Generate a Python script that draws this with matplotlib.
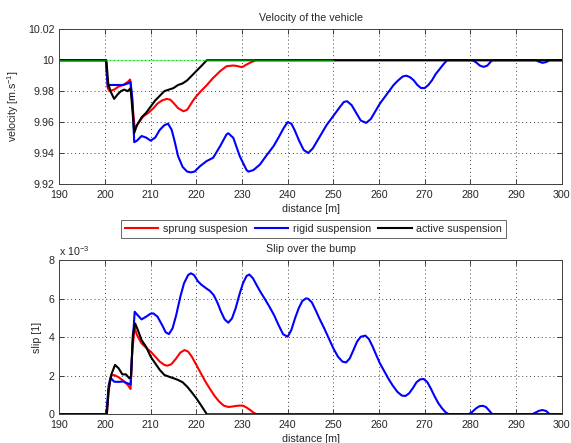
import matplotlib
matplotlib.use("Agg")
import matplotlib.pyplot as plt

plt.rcParams['font.family'] = ['Liberation Sans', 'DejaVu Sans']
plt.rcParams['mathtext.fontset'] = 'custom'
plt.rcParams['mathtext.rm'] = 'Liberation Sans'
FS = 7.7

# ---------------- velocity data ----------------
vel_ref_x = [190, 250]
vel_ref_y = [10, 10]

vel_sprung_x = [190, 200.2, 200.6, 201, 202, 203, 204, 205, 205.5, 206.0, 206.5, 207, 208.4,
                209.5, 210.6, 211.5, 212.5, 213.5, 214.3, 215, 216, 217.2, 218, 218.6, 219.3,
                220, 221, 222.2, 223.5, 225.2, 226.6, 228.1, 229, 230, 231, 232, 232.5, 233, 300]
vel_sprung_y = [10, 10, 9.982, 9.980, 9.981, 9.983, 9.984, 9.986, 9.9875, 9.972, 9.956, 9.958, 9.9638,
                9.966, 9.969, 9.972, 9.974, 9.975, 9.9745, 9.9724, 9.969, 9.967, 9.968, 9.9707, 9.974,
                9.9767, 9.980, 9.9836, 9.988, 9.9929, 9.9961, 9.9966, 9.9962, 9.9955, 9.9972, 9.9987, 9.9994, 10, 10]

vel_rigid_x = [190, 200.2, 200.6, 201, 202, 203, 204, 205, 205.6, 206.0, 206.4, 207, 208, 209,
               210, 211, 212, 213, 213.8, 214.6, 215.3, 216, 217, 218, 218.8, 219.6, 220.8, 222.2,
               223.7, 225.2, 226.6, 227, 228.1, 229.5, 231, 231.4, 232.5, 233.9, 235.5, 236.9,
               238, 239.1, 240, 240.8, 241.5, 242.5, 243.5, 244.5, 245.5, 246.5, 247.5, 248.5,
               249.5, 250.5, 251.5, 252.3, 253, 254, 255, 256, 257.2, 258.2, 259.2, 260.2, 261.2,
               262.2, 263.2, 264.2, 265.2, 266, 266.8, 267.6, 268.4, 269.2, 270, 270.8, 271.6,
               272.4, 273.2, 274, 274.9, 280.5, 281.3, 282.1, 282.9, 283.7, 284.3, 284.8, 294.3,
               295, 295.8, 296.6, 297.3, 300]
vel_rigid_y = [10, 10, 9.983, 9.984, 9.984, 9.984, 9.984, 9.985, 9.986, 9.975, 9.947, 9.948, 9.951, 9.950,
               9.948, 9.950, 9.955, 9.958, 9.959, 9.955, 9.947, 9.938, 9.931, 9.928, 9.9275, 9.928, 9.9315, 9.9347,
               9.937, 9.9444, 9.952, 9.9528, 9.9498, 9.938, 9.929, 9.928, 9.929, 9.9325, 9.939, 9.9444,
               9.950, 9.956, 9.960, 9.959, 9.955, 9.948, 9.942, 9.940, 9.943, 9.948, 9.953, 9.958,
               9.962, 9.966, 9.970, 9.973, 9.9735, 9.971, 9.966, 9.961, 9.9595, 9.962, 9.967, 9.972, 9.976,
               9.980, 9.984, 9.987, 9.9895, 9.990, 9.989, 9.987, 9.984, 9.982, 9.982, 9.984, 9.987,
               9.991, 9.994, 9.997, 10.0, 10, 9.9985, 9.9965, 9.9957, 9.9965, 9.9985, 10, 10,
               9.9991, 9.9983, 9.9988, 10, 10]

vel_active_x = [190, 200.3, 200.7, 201.2, 202, 202.8, 203.5, 204.2, 205, 205.6, 206.0, 206.4, 207,
                208, 209, 210, 211, 212, 213, 214, 215, 216, 217, 218, 219, 220, 221, 222.3, 300]
vel_active_y = [10, 10, 9.985, 9.980, 9.975, 9.978, 9.980, 9.981, 9.980, 9.982, 9.968, 9.953, 9.958,
                9.963, 9.966, 9.970, 9.974, 9.977, 9.980, 9.981, 9.982, 9.984, 9.985, 9.987, 9.990, 9.993, 9.996, 10, 10]

# ---------------- slip data (x 10^-3) ----------------
slip_sprung_x = [190, 200.4, 200.8, 201.3, 202, 203, 204, 205, 205.6, 206.0, 206.5, 207, 208, 209, 210,
                 211, 212, 213, 213.6, 214.5, 215.5, 216.5, 217.4, 218.2, 219, 220, 221, 222, 223, 224,
                 225, 226, 227, 227.8, 228.6, 229.4, 230.2, 231, 231.8, 232.5, 233.2, 300]
slip_sprung_y = [0, 0, 1.2, 2.0, 2.04, 1.92, 1.74, 1.52, 1.31, 3.4, 4.49, 4.11, 3.68, 3.45, 3.25,
                 2.99, 2.73, 2.56, 2.52, 2.59, 2.87, 3.2, 3.33, 3.25, 2.99, 2.56, 2.12, 1.69, 1.31, 0.95,
                 0.66, 0.45, 0.38, 0.4, 0.43, 0.45, 0.45, 0.35, 0.22, 0.09, 0, 0]

slip_rigid_x = [190, 200.3, 200.8, 201.2, 202, 203, 204, 205, 205.6, 206.0, 206.5, 207, 208, 209, 210,
                210.6, 211.5, 212.5, 213.3, 214, 214.8, 215.6, 216.5, 217.3, 218.2, 218.8, 219.5, 220.3,
                221, 222, 223, 223.8, 224.6, 225.4, 226.2, 227, 227.8, 228.6, 229.4, 230.2, 231, 231.6,
                232.4, 233.2, 234, 235, 236, 237, 238, 239, 240, 240.8, 241.6, 242.4, 243.2, 244, 244.5,
                245.3, 246.1, 247, 248, 249, 250, 251, 252, 252.8, 253.6, 254.4, 255.2, 256, 257, 257.8,
                258.6, 259.4, 260.2, 261, 262, 263, 264, 265, 265.8, 266.6, 267.4, 268.2, 269, 269.8,
                270.6, 271.4, 272.2, 273, 273.8, 274.6, 275.3, 279.6, 280.4, 281.2, 282, 282.7, 283.4,
                284.1, 284.8, 293.5, 294.2, 295, 295.8, 296.6, 297.4, 300]
slip_rigid_y = [0, 0, 1.5, 1.9, 1.69, 1.68, 1.7, 1.6, 1.55, 3.5, 5.32, 5.18, 4.92, 5.06, 5.22,
                5.23, 5.06, 4.63, 4.25, 4.16, 4.46, 5.15, 6.1, 6.79, 7.22, 7.31, 7.22, 6.91,
                6.74, 6.56, 6.39, 6.18, 5.8, 5.32, 4.92, 4.75, 4.97, 5.49, 6.18, 6.79, 7.17, 7.25,
                7.05, 6.7, 6.36, 5.98, 5.58, 5.15, 4.63, 4.15, 4.02, 4.37, 4.97, 5.49, 5.87, 6.01, 5.99,
                5.80, 5.41, 4.94, 4.46, 3.94, 3.42, 2.99, 2.73, 2.69, 2.9, 3.33, 3.77, 4.02, 4.08, 3.9,
                3.51, 3.07, 2.64, 2.3, 1.87, 1.49, 1.17, 0.97, 0.95, 1.09, 1.35, 1.66, 1.81, 1.83,
                1.66, 1.31, 0.92, 0.57, 0.31, 0.1, 0, 0, 0.12, 0.3, 0.42, 0.44, 0.38,
                0.2, 0, 0, 0.08, 0.18, 0.22, 0.17, 0, 0]

slip_active_x = [190, 200.4, 200.8, 201.4, 202.2, 203, 203.8, 204.6, 205.3, 205.7, 206.1, 206.6, 207.2,
                 208, 209, 210, 211, 212, 213, 214, 215, 216, 217, 218, 219, 220, 221, 222.3, 300]
slip_active_y = [0, 0, 1.3, 2.07, 2.56, 2.38, 2.07, 2.07, 1.87, 1.95, 4.11, 4.71, 4.37,
                 3.85, 3.5, 2.99, 2.64, 2.3, 2.04, 1.95, 1.87, 1.78, 1.66, 1.43, 1.14, 0.83, 0.48, 0, 0]

labels = ['sprung suspesion', 'rigid suspension', 'active suspension']
colors = ['#ff0000', '#0000ff', '#000000']
xticks = [190, 200, 210, 220, 230, 240, 250, 260, 270, 280, 290, 300]
vel_ticks = [9.92, 9.94, 9.96, 9.98, 10.0, 10.02]
vel_ticklabels = ['9.92', '9.94', '9.96', '9.98', '10', '10.02']
slip_ticks = [0, 2, 4, 6, 8]

fig = plt.figure(figsize=(5.71, 4.43), dpi=100)
ax1 = fig.add_axes([0.1039, 0.5847, 0.8798, 0.3492])
ax2 = fig.add_axes([0.1039, 0.0648, 0.8798, 0.3483])

LW = 1.5
axc = '#262626'


def style(ax):
    ax.set_xlim(190, 300)
    ax.set_xticks(xticks)
    ax.grid(True, linestyle=(0, (1, 3)), color='#404040', linewidth=0.7)
    ax.tick_params(direction='in', length=3.5, width=0.6, top=True, right=True,
                   labelsize=FS, colors=axc)
    ax.tick_params(axis='x', pad=4)
    ax.tick_params(axis='y', pad=3.5)
    for s in ax.spines.values():
        s.set_color('#404040')
        s.set_linewidth(0.7)
    ax.set_xlabel('distance [m]', fontsize=FS, color=axc, labelpad=3)


# velocity
ax1.plot(vel_sprung_x, vel_sprung_y, color=colors[0], lw=LW)
ax1.plot(vel_rigid_x, vel_rigid_y, color=colors[1], lw=LW)
ax1.plot(vel_active_x, vel_active_y, color=colors[2], lw=LW)
ax1.plot(vel_ref_x, vel_ref_y, color='#00ff00', lw=1.0, alpha=0.5)
style(ax1)
ax1.set_ylim(9.92, 10.02)
ax1.set_yticks(vel_ticks)
ax1.set_yticklabels(vel_ticklabels)
ax1.set_ylabel(r'velocity [m.s$^{\mathregular{-1}}$]', fontsize=FS, color=axc, labelpad=5)
ax1.set_title('Velocity of the vehicle', fontsize=FS, color=axc, pad=6)

# slip
h1, = ax2.plot(slip_sprung_x, slip_sprung_y, color=colors[0], lw=LW)
h2, = ax2.plot(slip_rigid_x, slip_rigid_y, color=colors[1], lw=LW)
h3, = ax2.plot(slip_active_x, slip_active_y, color=colors[2], lw=LW)
style(ax2)
ax2.set_ylim(0, 8)
ax2.set_yticks(slip_ticks)
ax2.set_ylabel('slip [1]', fontsize=FS, color=axc, labelpad=5)
ax2.set_title('Slip over the bump', fontsize=FS, color=axc, pad=6)
ax2.text(0.0, 1.012, r'x 10$^{\mathregular{-3}}$', transform=ax2.transAxes, fontsize=FS,
         color=axc, ha='left', va='bottom')

leg = fig.legend([h1, h2, h3], labels, loc='center', bbox_to_anchor=(0.549, 0.483), ncol=3,
                 fontsize=FS, frameon=True, fancybox=False, handlelength=3.1, handletextpad=0.45,
                 columnspacing=0.7, borderpad=0.35, borderaxespad=0)
leg.get_frame().set_edgecolor('#404040')
leg.get_frame().set_linewidth(0.7)
for t in leg.get_texts():
    t.set_color(axc)

fig.savefig('out.png', dpi=100)
